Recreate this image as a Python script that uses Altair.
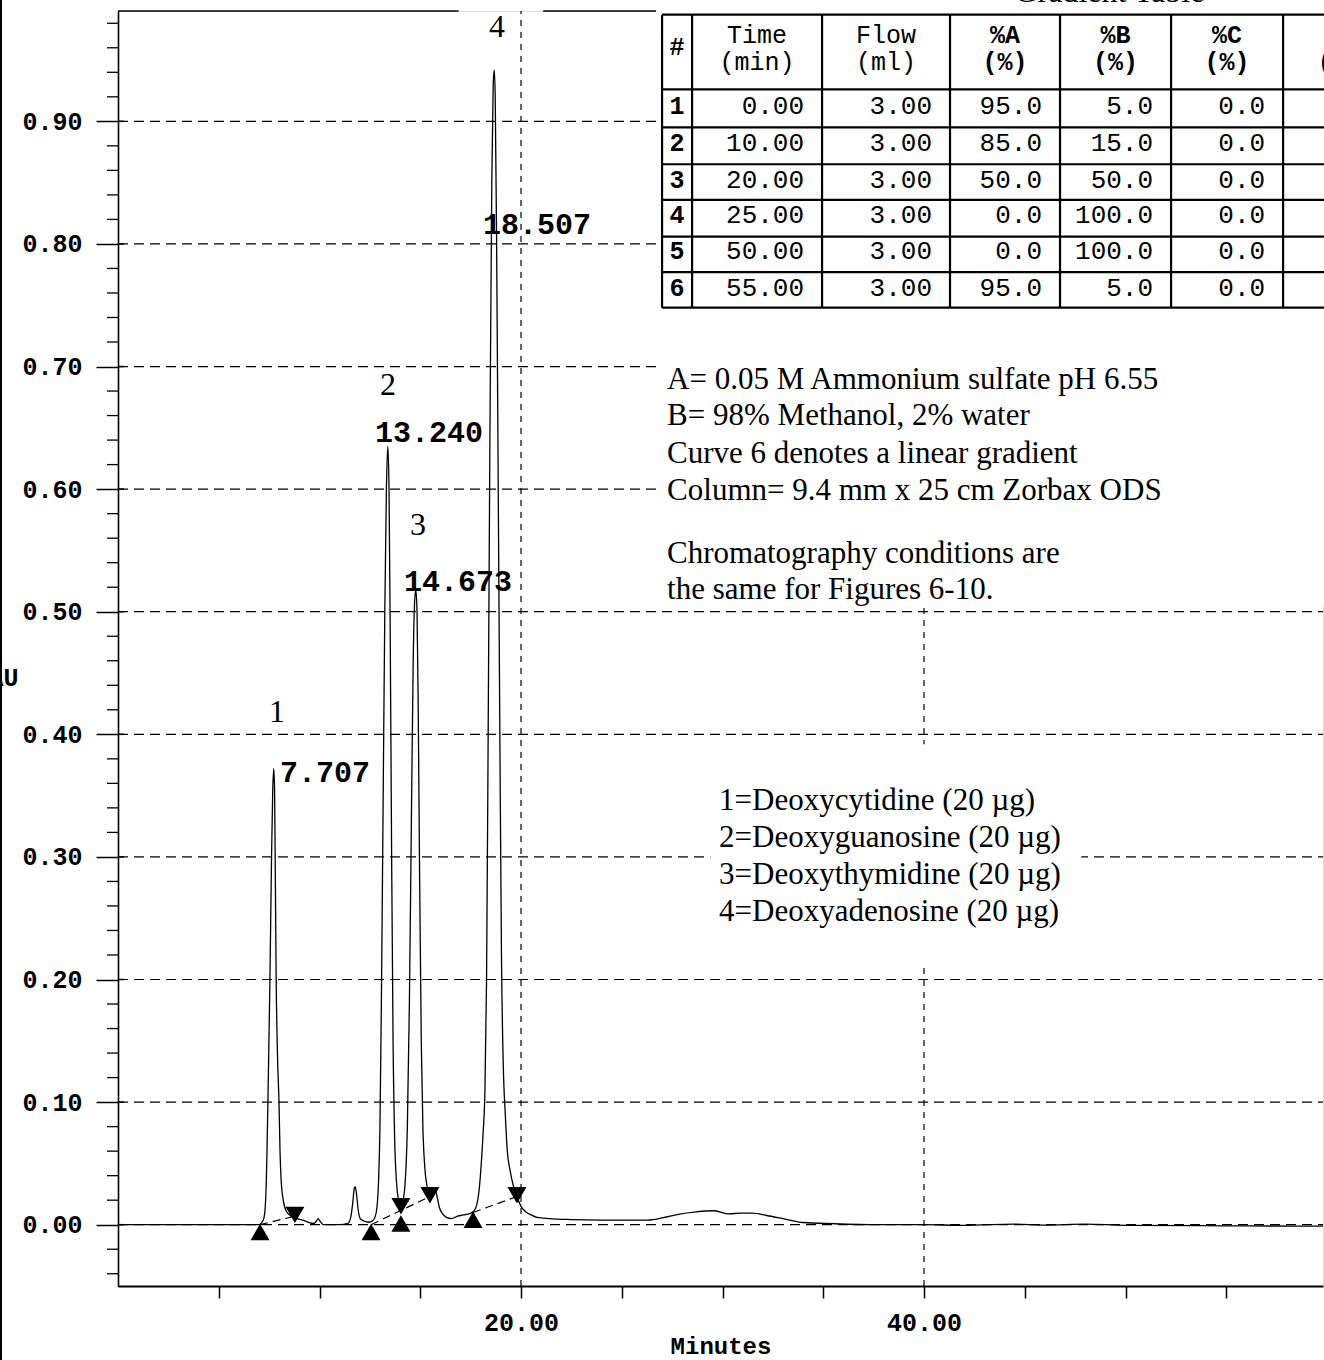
import altair as alt
import pandas as pd

# ---------------- data ----------------
# chromatogram trace: retention time (min) and absorbance (AU)
trace_time = [0.0, 2.0, 4.0, 6.0, 7.00, 7.15, 7.25, 7.31, 7.36, 7.40, 7.44, 7.49, 7.54, 7.62, 7.68,
              7.73, 7.77, 7.80, 7.85, 7.92, 7.99, 8.04, 8.10, 8.20, 8.35, 8.60, 8.90, 9.30, 9.70,
              9.85, 9.93, 10.02, 10.20, 11.00, 11.40, 11.55, 11.65, 11.72, 11.77, 11.83, 11.92,
              12.02, 12.20, 12.45, 12.62, 12.75, 12.85, 12.93, 13.00, 13.07, 13.15, 13.24, 13.32,
              13.39, 13.45, 13.51, 13.58, 13.65, 13.73, 13.82, 13.92, 14.03, 14.12, 14.24, 14.36,
              14.46, 14.56, 14.65, 14.72, 14.78, 14.84, 14.90, 14.97, 15.05, 15.13, 15.22, 15.32,
              15.45, 15.58, 15.72, 15.82, 15.95, 16.10, 16.30, 16.55, 16.85, 17.15, 17.45, 17.65,
              17.80, 17.92, 18.02, 18.12, 18.21, 18.29, 18.37, 18.46, 18.55, 18.62, 18.67, 18.72,
              18.79, 18.87, 18.95, 19.03, 19.12, 19.22, 19.32, 19.45, 19.60, 19.80, 20.00, 20.20,
              20.50, 20.80, 21.40, 22.50, 24.00, 26.30, 27.00, 27.80, 28.70, 29.60, 30.30, 30.90,
              31.50, 32.20, 33.10, 34.00, 35.50, 37.70, 40.00, 42.00, 44.50, 46.00, 48.00, 50.00,
              53.70, 56.00, 59.80]
trace_au = [0.000, 0.000, 0.000, 0.000, 0.000, 0.002, 0.006, 0.015, 0.035, 0.065, 0.100, 0.150, 0.200,
            0.300, 0.355, 0.372, 0.355, 0.300, 0.200, 0.135, 0.100, 0.060, 0.035, 0.020, 0.011, 0.007,
            0.005, 0.003, 0.001, 0.003, 0.005, 0.003, 0.000, 0.000, 0.001, 0.006, 0.018, 0.029, 0.031,
            0.026, 0.012, 0.005, 0.003, 0.002, 0.003, 0.006, 0.014, 0.035, 0.080, 0.180, 0.330, 0.500,
            0.600, 0.635, 0.600, 0.480, 0.300, 0.150, 0.070, 0.035, 0.020, 0.014, 0.018, 0.032, 0.080,
            0.180, 0.330, 0.460, 0.508, 0.518, 0.500, 0.420, 0.280, 0.150, 0.080, 0.048, 0.033, 0.026,
            0.026, 0.029, 0.024, 0.014, 0.009, 0.006, 0.005, 0.007, 0.008, 0.009, 0.011, 0.016, 0.028,
            0.048, 0.075, 0.110, 0.200, 0.400, 0.650, 0.850, 0.930, 0.942, 0.920, 0.800, 0.600, 0.400,
            0.220, 0.130, 0.090, 0.060, 0.045, 0.033, 0.023, 0.015, 0.011, 0.008, 0.006, 0.005, 0.0042,
            0.0038, 0.0038, 0.0055, 0.0085, 0.0105, 0.0114, 0.0088, 0.0095, 0.0095, 0.0075, 0.0046,
            0.0018, 0.0008, 0.0000, 0.0000, -0.0005, 0.0005, -0.0003, 0.0005, -0.0005, -0.0008,
            -0.0010, -0.0012]

# integration baselines (dashed) start/end
base_t0 = [7.05, 12.56, 17.62]
base_a0 = [0.000, 0.000, 0.010]
base_t1 = [8.78, 15.48, 19.80]
base_a1 = [0.007, 0.023, 0.023]

# integration markers
start_t = [7.05, 12.56, 14.04, 17.62]
start_a = [-0.006, -0.006, 0.001, 0.004]
end_t = [8.78, 14.04, 15.48, 19.80]
end_a = [0.008, 0.015, 0.024, 0.024]

# peak annotations
peak_numbers = ["1", "2", "3", "4"]
retention_labels = ["7.707", "13.240", "14.673", "18.507"]

# gradient table
table_head1 = ["#", "Time", "Flow", "%A", "%B", "%C", "%D"]
table_head2 = ["", "(min)", "(ml)", "(%)", "(%)", "(%)", "(%)"]
row_no = ["1", "2", "3", "4", "5", "6"]
grad_time = ["0.00", "10.00", "20.00", "25.00", "50.00", "55.00"]
grad_flow = ["3.00", "3.00", "3.00", "3.00", "3.00", "3.00"]
grad_a = ["95.0", "85.0", "50.0", "0.0", "0.0", "95.0"]
grad_b = ["5.0", "15.0", "50.0", "100.0", "100.0", "5.0"]
grad_c = ["0.0", "0.0", "0.0", "0.0", "0.0", "0.0"]

conditions = ["A= 0.05 M Ammonium sulfate pH 6.55",
              "B= 98% Methanol, 2% water",
              "Curve 6 denotes a linear gradient",
              "Column= 9.4 mm x 25 cm Zorbax ODS",
              "Chromatography conditions are",
              "the same for Figures 6-10."]
compounds = ["1=Deoxycytidine (20 \u00b5g)",
             "2=Deoxyguanosine (20 \u00b5g)",
             "3=Deoxythymidine (20 \u00b5g)",
             "4=Deoxyadenosine (20 \u00b5g)"]

y_major = [0.0, 0.1, 0.2, 0.3, 0.4, 0.5, 0.6, 0.7, 0.8, 0.9]
x_ticks = [5, 10, 15, 20, 25, 30, 35, 40, 45, 50, 55]
x_grid = [20, 40]

# ---------------- layout ----------------
X_DOMAIN = [0, 59.8]
Y_DOMAIN = [-0.05, 0.99]
W, H = 1205, 1275
MONO = "Liberation Mono"
SERIF = "Liberation Serif"

xs = alt.Scale(domain=X_DOMAIN, nice=False, zero=False)
ys = alt.Scale(domain=Y_DOMAIN, nice=False, zero=False)

AX_X = alt.Axis(values=x_ticks, grid=False, tickSize=12, tickWidth=1.5, domainWidth=2,
                labelExpr="datum.value == 20 || datum.value == 40 ? format(datum.value, '.2f') : ''",
                labelFont=MONO, labelFontSize=25, labelFontWeight="bold", labelBaseline="middle",
                labelPadding=24, labelColor="black", tickColor="black", domainColor="black",
                titleFont=MONO, titleFontSize=24, titleFontWeight="bold", titleColor="black",
                titleY=60, titleBaseline="middle")
AX_Y = alt.Axis(values=y_major, format=".2f", grid=False, tickSize=22, tickWidth=1.5,
                domainWidth=1.6, labelFont=MONO, labelFontSize=25, labelFontWeight="bold",
                labelPadding=14, labelColor="black", tickColor="black", domainColor="black",
                titleFont=MONO, titleFontSize=25, titleFontWeight="bold", titleColor="black",
                titleAngle=0, titleX=-100, titleY=666, titleAlign="right",
                titleBaseline="middle")


def X(f):
    return alt.X(f, type="quantitative", scale=xs, axis=AX_X, title="Minutes")


def Y(f):
    return alt.Y(f, type="quantitative", scale=ys, axis=AX_Y, title="AU")


# minor y ticks every 0.02
minor = []
for i in range(52):
    v = round(-0.04 + 0.02 * i, 2)
    if abs(v * 10 - round(v * 10)) > 1e-6:
        minor.append(v)

# grid
hgrid = alt.Chart(pd.DataFrame({"a": y_major, "t0": 0.0, "t1": X_DOMAIN[1]})).mark_rule(
    color="black", strokeWidth=1.2, strokeDash=[10, 6]).encode(x=X("t0"), x2="t1", y=Y("a"))
vgrid = alt.Chart(pd.DataFrame({"t": x_grid, "a0": Y_DOMAIN[0], "a1": Y_DOMAIN[1]})).mark_rule(
    color="black", strokeWidth=1.2, strokeDash=[6, 6]).encode(x=X("t"), y=Y("a0"), y2="a1")

# top frame
top = alt.Chart(pd.DataFrame({"t0": [0.0, 21.1], "t1": [16.9, 26.7], "a": [0.99, 0.99]})).mark_rule(
    color="black", strokeWidth=1.6).encode(x=X("t0"), x2="t1", y=Y("a"))

# white areas behind the printed annotations
occl = alt.Chart(pd.DataFrame({"t0": [26.7, 29.4], "t1": [60.5, 47.8],
                               "a0": [0.505, 0.212], "a1": [1.0, 0.392]})).mark_rect(
    color="white").encode(x=X("t0"), x2="t1", y=Y("a0"), y2="a1")

# gradient table geometry (minutes / AU)
col_edges = [27.00, 28.49, 34.94, 41.29, 46.75, 52.26, 57.82]
row_edges = [0.987, 0.926, 0.895, 0.865, 0.836, 0.806, 0.777, 0.748]
tv = alt.Chart(pd.DataFrame({"t": col_edges, "a0": row_edges[-1], "a1": row_edges[0]})).mark_rule(
    color="black", strokeWidth=2.2).encode(x=X("t"), y=Y("a0"), y2="a1")
th = alt.Chart(pd.DataFrame({"a": row_edges, "t0": col_edges[0], "t1": 60.5})).mark_rule(
    color="black", strokeWidth=2.2).encode(x=X("t0"), x2="t1", y=Y("a"))

head_centers = [27.74, 31.71, 38.11, 44.02, 49.50, 55.04, 60.65]
hdf = pd.DataFrame({"t": head_centers * 2,
                    "a": [0.9608] + [0.9706] * 6 + [0.9486] * 7,
                    "txt": table_head1 + table_head2,
                    "bold": [1, 0, 0, 1, 1, 1, 1] * 2})
head_reg = alt.Chart(hdf[hdf.bold == 0]).mark_text(
    font=MONO, fontSize=25, color="black", align="center", baseline="middle").encode(
    x=X("t"), y=Y("a"), text="txt:N")
head_bold = alt.Chart(hdf[hdf.bold == 1]).mark_text(
    font=MONO, fontSize=25, fontWeight="bold", color="black", align="center", baseline="middle").encode(
    x=X("t"), y=Y("a"), text="txt:N")

row_centers = [0.9127, 0.8825, 0.8524, 0.8238, 0.7945, 0.7643]
cells = []
for j, col in enumerate([grad_time, grad_flow, grad_a, grad_b, grad_c]):
    for r, v in enumerate(col):
        cells.append({"t": col_edges[j + 2], "a": row_centers[r], "txt": v})
cell_txt = alt.Chart(pd.DataFrame(cells)).mark_text(
    font=MONO, fontSize=26, color="black", align="right", baseline="middle", dx=-18).encode(
    x=X("t"), y=Y("a"), text="txt:N")
num_txt = alt.Chart(pd.DataFrame({"t": 27.74, "a": row_centers, "txt": row_no})).mark_text(
    font=MONO, fontSize=25, fontWeight="bold", color="black", align="center", baseline="middle").encode(
    x=X("t"), y=Y("a"), text="txt:N")
tbl_title = alt.Chart(pd.DataFrame({"t": [49.2], "a": [0.9975], "txt": ["Gradient Table"]})).mark_text(
    font=SERIF, fontSize=32, color="black", align="center", baseline="alphabetic").encode(
    x=X("t"), y=Y("a"), text="txt:N")

# integration baselines and markers
bdf = pd.DataFrame({"t0": base_t0, "a0": base_a0, "t1": base_t1, "a1": base_a1})
blines = alt.Chart(bdf).mark_rule(color="black", strokeWidth=1.2, strokeDash=[8, 5]).encode(
    x=X("t0"), y=Y("a0"), x2="t1", y2="a1")

trace = alt.Chart(pd.DataFrame({"t": trace_time, "au": trace_au})).mark_line(
    color="black", strokeWidth=1.3, interpolate="monotone").encode(x=X("t"), y=Y("au"))

up = alt.Chart(pd.DataFrame({"t": start_t, "a": start_a})).mark_point(
    shape="triangle-up", filled=True, color="black", opacity=1, size=360).encode(x=X("t"), y=Y("a"))
down = alt.Chart(pd.DataFrame({"t": end_t, "a": end_a})).mark_point(
    shape="triangle-down", filled=True, color="black", opacity=1, size=360).encode(x=X("t"), y=Y("a"))

# peak labels
pn = alt.Chart(pd.DataFrame({"t": [7.89, 13.40, 14.89, 18.81], "a": [0.418, 0.685, 0.571, 0.977],
                             "txt": peak_numbers})).mark_text(
    font=SERIF, fontSize=32, color="black", align="center", baseline="middle").encode(
    x=X("t"), y=Y("a"), text="txt:N")
rt = alt.Chart(pd.DataFrame({"t": [8.04, 12.75, 14.19, 18.11], "a": [0.3687, 0.646, 0.5245, 0.8157],
                             "txt": retention_labels})).mark_text(
    font=MONO, fontSize=30, fontWeight="bold", color="black", align="left", baseline="middle").encode(
    x=X("t"), y=Y("a"), text="txt:N")

cond = alt.Chart(pd.DataFrame({"t": 27.25, "a": [0.682, 0.652, 0.6215, 0.591, 0.540, 0.5106],
                               "txt": conditions})).mark_text(
    font=SERIF, fontSize=31, color="black", align="left", baseline="alphabetic").encode(
    x=X("t"), y=Y("a"), text="txt:N")
comp = alt.Chart(pd.DataFrame({"t": 29.83, "a": [0.3385, 0.3083, 0.2781, 0.2480],
                               "txt": compounds})).mark_text(
    font=SERIF, fontSize=31, color="black", align="left", baseline="alphabetic").encode(
    x=X("t"), y=Y("a"), text="txt:N")

minor_ticks = alt.Chart(pd.DataFrame({"v": minor})).mark_rule(color="black", strokeWidth=1.3).encode(
    y=Y("v"), x=alt.value(-11), x2=alt.value(0))
major_inner = alt.Chart(pd.DataFrame({"v": y_major})).mark_rule(color="black", strokeWidth=1.5).encode(
    y=Y("v"), x=alt.value(0), x2=alt.value(6))
edge = alt.Chart(pd.DataFrame({"v": [0]})).mark_rule(color="black", strokeWidth=2).encode(
    x=alt.value(-117), y=alt.value(-11), y2=alt.value(1349))

chart = alt.layer(
    trace, hgrid, vgrid, top, occl, tv, th, head_reg, head_bold, cell_txt, num_txt, tbl_title,
    blines, up, down, pn, rt, cond, comp, minor_ticks, major_inner, edge
).properties(
    width=W, height=H,
    autosize=alt.AutoSizeParams(type="none"),
    padding={"left": 118, "top": 11, "right": 1, "bottom": 74},
).configure_view(stroke=None).configure(background="white")

chart.save("out.html", embed_options={"renderer": "svg", "actions": False})
